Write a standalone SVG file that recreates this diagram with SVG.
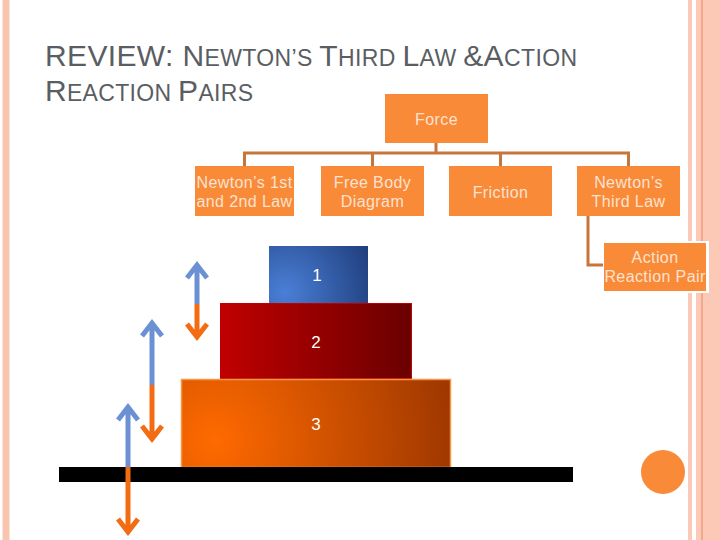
<svg xmlns="http://www.w3.org/2000/svg" width="720" height="540" viewBox="0 0 720 540">
<defs>
<style>
.title{font-family:"Liberation Sans",Arial,sans-serif;fill:#5a5e63;font-size:30px}
.sc{font-size:23px}
.box{fill:#f88a38}
.lbl{font-family:"Liberation Sans",Arial,sans-serif;font-size:16px;fill:#fde2d0;text-anchor:middle;letter-spacing:0.4px}
.num{font-family:"Liberation Sans",Arial,sans-serif;font-size:17px;fill:#ffffff;text-anchor:middle}
.conn{fill:none;stroke:#c8753c;stroke-width:3}
.blue{stroke:#6b91d4;stroke-width:5;fill:none}
.orng{stroke:#f36b12;stroke-width:5;fill:none}
</style>
<radialGradient id="g1" cx="285" cy="292" r="95" gradientUnits="userSpaceOnUse">
<stop offset="0" stop-color="#4a7fd6"/><stop offset="1" stop-color="#1f3d7c"/>
</radialGradient>
<linearGradient id="g2" x1="0" y1="0" x2="1" y2="0">
<stop offset="0" stop-color="#c00000"/><stop offset="1" stop-color="#6a0000"/>
</linearGradient>
<radialGradient id="g3" cx="215" cy="440" r="260" gradientUnits="userSpaceOnUse">
<stop offset="0" stop-color="#ff6a00"/><stop offset="1" stop-color="#963300"/>
</radialGradient>
</defs>
<rect width="720" height="540" fill="#ffffff"/>
<!-- borders -->
<rect x="2" y="0" width="8" height="540" fill="#fde3d8"/>
<rect x="3" y="0" width="6" height="540" fill="#f8c5b1"/>
<rect x="688" y="0" width="4" height="540" fill="#fac9b7"/>
<rect x="696" y="0" width="24" height="540" fill="#fcc9b6"/>
<rect x="701" y="0" width="2" height="540" fill="#f2a88c"/>
<!-- title -->
<text class="title" x="45" y="66" textLength="532" lengthAdjust="spacing">REVIEW: N<tspan class="sc">EWTON’S </tspan>T<tspan class="sc">HIRD </tspan>L<tspan class="sc">AW </tspan>&amp;A<tspan class="sc">CTION</tspan></text>
<text class="title" x="45" y="101" textLength="208" lengthAdjust="spacing">R<tspan class="sc">EACTION </tspan>P<tspan class="sc">AIRS</tspan></text>
<!-- connectors -->
<g id="connectors">
<path class="conn" d="M436 143V153M244.5 166V153H628.5V166M372.5 153V166M500.5 153V166"/>
<path class="conn" d="M588 216V265H604"/>
</g>
<g id="force"><rect class="box" x="385" y="94" width="103" height="49"/><text class="lbl" x="436.5" y="125">Force</text></g>
<g id="n12"><rect class="box" x="195" y="166" width="99" height="50"/><text class="lbl" x="244.5" y="188">Newton’s 1st</text><text class="lbl" x="244.5" y="207">and 2nd Law</text></g>
<g id="fbd"><rect class="box" x="321" y="166" width="103" height="50"/><text class="lbl" x="372.5" y="188">Free Body</text><text class="lbl" x="372.5" y="207">Diagram</text></g>
<g id="friction"><rect class="box" x="449" y="166" width="103" height="50"/><text class="lbl" x="500.5" y="198">Friction</text></g>
<g id="n3"><rect class="box" x="577" y="166" width="103" height="50"/><text class="lbl" x="628.5" y="188">Newton’s</text><text class="lbl" x="628.5" y="207">Third Law</text></g>
<g id="arp"><rect x="603" y="241" width="106" height="52" fill="#ffffff"/><rect class="box" x="604" y="243" width="102" height="48"/><text class="lbl" x="655" y="263">Action</text><text class="lbl" x="655" y="282">Reaction Pair</text></g>
<!-- blocks -->
<g id="block1"><rect x="269" y="246" width="99" height="57" fill="url(#g1)"/><text class="num" x="317" y="281">1</text></g>
<g id="block2"><rect x="220.5" y="303.5" width="191" height="75" fill="url(#g2)" stroke="#c00000" stroke-width="1"/><text class="num" x="316" y="348">2</text></g>
<g id="block3"><rect x="181.5" y="379.5" width="269" height="88" fill="url(#g3)" stroke="#f79646" stroke-width="1.5"/><text class="num" x="316" y="430">3</text></g>
<rect x="59" y="467" width="514" height="15" fill="#000000"/>
<!-- arrows -->
<g id="arrowA">
<path class="blue" d="M197 304V267M187 278L197 265L207 278"/>
<path class="orng" d="M197 304V335M187 324L197 337L207 324"/>
</g>
<g id="arrowB">
<path class="blue" d="M152 385V325M142 336L152 323L162 336"/>
<path class="orng" d="M152 385V437M142 426L152 439L162 426"/>
</g>
<g id="arrowC">
<path class="blue" d="M128 467V409M118 420L128 407L138 420"/>
<path class="orng" d="M128 467V530M118 519L128 532L138 519"/>
</g>
<circle cx="663" cy="472" r="22" fill="#f88a38"/>
</svg>
